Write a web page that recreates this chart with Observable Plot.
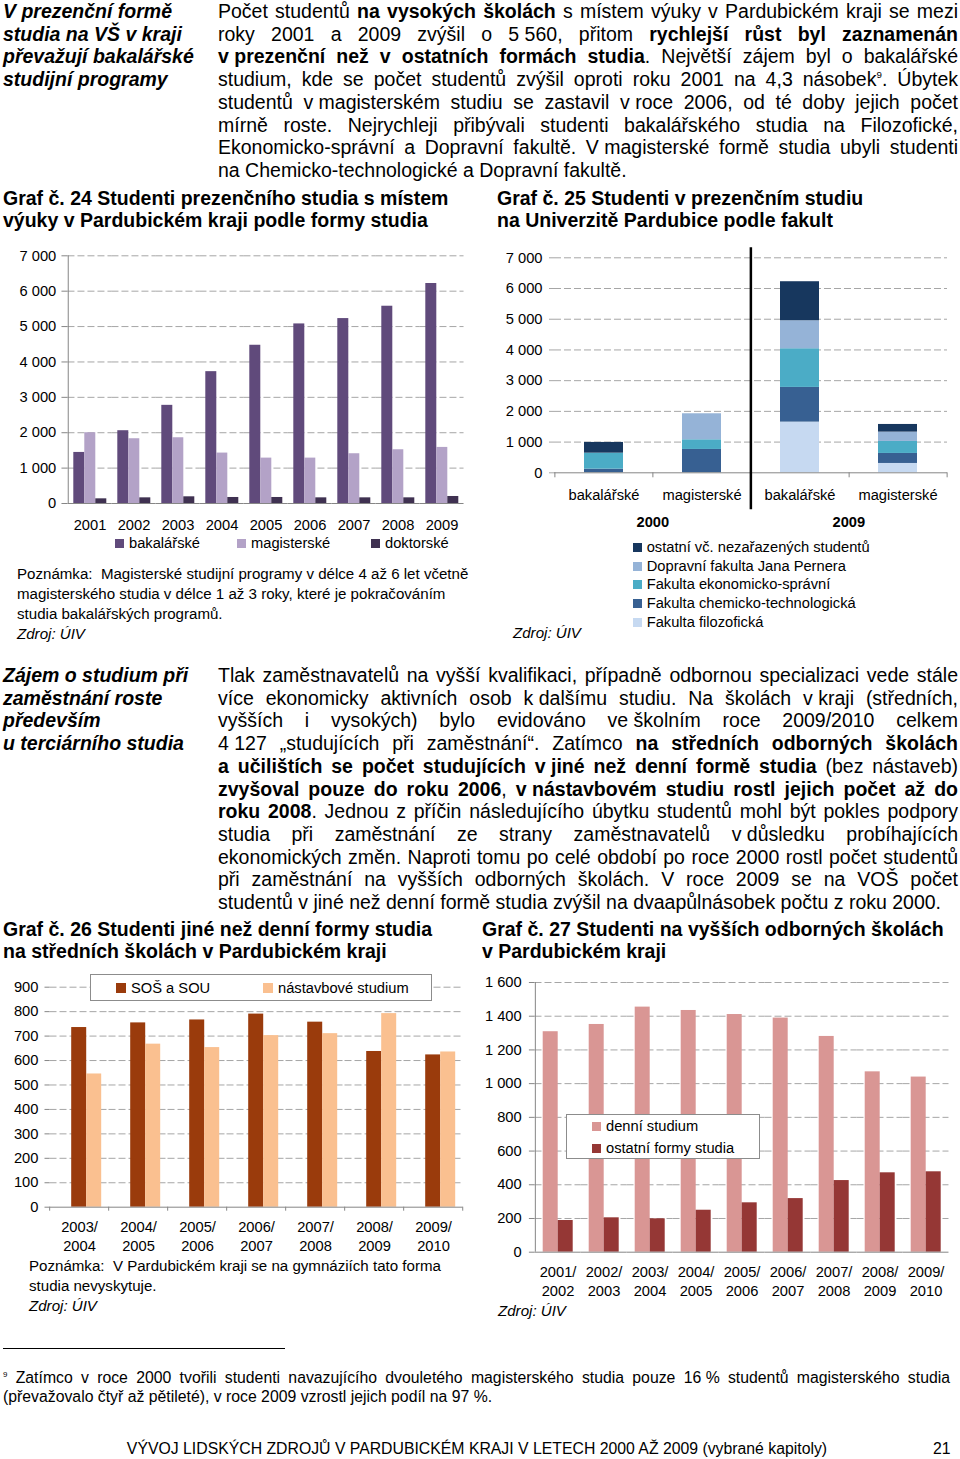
<!DOCTYPE html>
<html><head><meta charset="utf-8">
<script src="https://cdn.jsdelivr.net/npm/d3@7"></script>
<script src="https://cdn.jsdelivr.net/npm/@observablehq/plot@0.6"></script>
<style>
html,body{margin:0;padding:0;background:#fff;}
#page{position:relative;width:960px;height:1459px;overflow:hidden;font-family:"Liberation Sans",Arial,sans-serif;color:#000;background:#fff;}
.abs{position:absolute;}
.txt{font-size:19.5px;line-height:22.7px;}
.txt div{text-align:justify;text-align-last:justify;}
.txt div.l{text-align:left;text-align-last:left;}
.nb{display:inline-block;}
.side{font-size:19.5px;line-height:22.7px;font-weight:bold;font-style:italic;}
.ttl{font-size:19.5px;line-height:22.3px;font-weight:bold;}
.sm{font-size:15.1px;line-height:20px;}
.sw{display:inline-block;width:9px;height:9px;margin-right:5px;vertical-align:0px;}
.legbox{border:1px solid #8c8c8c;background:#fff;box-sizing:border-box;}
.legitem{position:absolute;font-size:14.7px;line-height:18px;white-space:nowrap;}
.fn{font-size:15.8px;line-height:19px;}
.fn div{text-align:justify;text-align-last:justify;}
.fn div.l{text-align:left;text-align-last:left;}
sup{font-size:0.5em;vertical-align:0.8em;line-height:0;}
</style></head><body><div id="page">

<div class="abs side" style="left:3px;top:0px;width:210px;">V prezenční formě<br>studia na VŠ v kraji<br>převažují bakalářské<br>studijní programy</div>
<div class="abs txt" style="left:218px;top:0px;width:740px;">
<div>Počet studentů <b>na vysokých školách</b> s místem výuky v Pardubickém kraji se mezi</div>
<div>roky 2001 a 2009 zvýšil o <span class="nb">5 560</span>, přitom <b>rychlejší růst byl zaznamenán</b></div>
<div><b><span class="nb">v prezenční</span> než v ostatních formách studia</b>. Největší zájem byl o bakalářské</div>
<div>studium, kde se počet studentů zvýšil oproti roku 2001 na 4,3 násobek<sup>9</sup>. Úbytek</div>
<div>studentů <span class="nb">v magisterském</span> studiu se zastavil <span class="nb">v roce</span> 2006, od té doby jejich počet</div>
<div>mírně roste. Nejrychleji přibývali studenti bakalářského studia na Filozofické,</div>
<div>Ekonomicko-správní a Dopravní fakultě. <span class="nb">V magisterské</span> formě studia ubyli studenti</div>
<div class="l">na Chemicko-technologické a Dopravní fakultě.</div>
</div>

<div class="abs ttl" style="left:3px;top:187px;">Graf č. 24 Studenti prezenčního studia s místem<br>výuky v Pardubickém kraji podle formy studia</div>
<div class="abs ttl" style="left:497px;top:187px;">Graf č. 25 Studenti v prezenčním studiu<br>na Univerzitě Pardubice podle fakult</div>

<div id="c24" class="abs" style="left:0px;top:240px;"></div>
<div id="leg24" class="abs" style="left:0px;top:0px;"></div>
<div class="abs sm" style="left:17px;top:564px;">Poznámka:&nbsp; Magisterské studijní programy v&nbsp;délce 4 až 6 let včetně<br>magisterského studia v&nbsp;délce 1 až 3 roky, které je pokračováním<br>studia bakalářských programů.<br><i>Zdroj: ÚIV</i></div>

<div id="c25" class="abs" style="left:490px;top:240px;"></div>
<div id="leg25" class="abs" style="left:0px;top:0px;"></div>
<div class="abs sm" style="left:513px;top:623px;"><i>Zdroj: ÚIV</i></div>

<div class="abs side" style="left:3px;top:664px;width:210px;">Zájem o studium při<br>zaměstnání roste<br>především<br>u terciárního studia</div>
<div class="abs txt" style="left:218px;top:664px;width:740px;">
<div>Tlak zaměstnavatelů na vyšší kvalifikaci, případně odbornou specializaci vede stále</div>
<div>více ekonomicky aktivních osob <span class="nb">k dalšímu</span> studiu. Na školách <span class="nb">v kraji</span> (středních,</div>
<div>vyšších i vysokých) bylo evidováno <span class="nb">ve školním</span> roce 2009/2010 celkem</div>
<div><span class="nb">4 127</span> „studujících při zaměstnání“. Zatímco <b>na středních odborných školách</b></div>
<div><b>a učilištích se počet studujících <span class="nb">v jiné</span> než denní formě studia</b> (bez nástaveb)</div>
<div><b>zvyšoval pouze do roku 2006</b>, <b><span class="nb">v nástavbovém</span> studiu rostl jejich počet až do</b></div>
<div><b>roku 2008</b>. Jednou z příčin následujícího úbytku studentů mohl být pokles podpory</div>
<div>studia při zaměstnání ze strany zaměstnavatelů <span class="nb">v důsledku</span> probíhajících</div>
<div>ekonomických změn. Naproti tomu po celé období po roce 2000 rostl počet studentů</div>
<div>při zaměstnání na vyšších odborných školách. V roce 2009 se na VOŠ počet</div>
<div class="l">studentů v&nbsp;jiné než denní formě studia zvýšil na dvaapůlnásobek počtu z roku 2000.</div>
</div>

<div class="abs ttl" style="left:3px;top:918px;">Graf č. 26 Studenti jiné než denní formy studia<br>na středních školách v Pardubickém kraji</div>
<div class="abs ttl" style="left:482px;top:918px;">Graf č. 27 Studenti na vyšších odborných školách<br>v Pardubickém kraji</div>

<div id="c26" class="abs" style="left:0px;top:970px;"></div>
<div id="leg26" class="abs legbox" style="left:90px;top:974px;width:342px;height:27px;"></div>
<div class="abs sm" style="left:29px;top:1256px;">Poznámka:&nbsp; V Pardubickém kraji se na gymnáziích tato forma<br>studia nevyskytuje.<br><i>Zdroj: ÚIV</i></div>

<div id="c27" class="abs" style="left:480px;top:970px;"></div>
<div id="leg27" class="abs legbox" style="left:566px;top:1114px;width:194px;height:45px;"></div>
<div class="abs sm" style="left:498px;top:1301px;"><i>Zdroj: ÚIV</i></div>

<div class="abs" style="left:3px;top:1348px;width:282px;height:1px;background:#000;"></div>
<div class="abs fn" style="left:3px;top:1368px;width:947px;">
<div><sup>9</sup> Zatímco v roce 2000 tvořili studenti navazujícího dvouletého magisterského studia pouze <span class="nb">16 %</span> studentů magisterského studia</div>
<div class="l">(převažovalo čtyř až pětileté), v&nbsp;roce 2009 vzrostl jejich podíl na 97 %.</div>
</div>
<div class="abs fn" style="left:110px;top:1439px;width:734px;text-align:center;">VÝVOJ LIDSKÝCH ZDROJŮ V PARDUBICKÉM KRAJI V LETECH 2000 AŽ 2009 (vybrané kapitoly)</div>
<div class="abs fn" style="left:933px;top:1439px;">21</div>

</div>
<script>
// ---------- DATA ----------
// Graf 24
const years24 = ["2001","2002","2003","2004","2005","2006","2007","2008","2009"];
const forms24 = ["bakalářské","magisterské","doktorské"];
const bak24 = [1443, 2057, 2774, 3726, 4472, 5075, 5226, 5575, 6217];
const mag24 = [2000, 1830, 1858, 1425, 1283, 1283, 1406, 1519, 1585];
const dok24 = [132, 160, 189, 170, 170, 160, 160, 160, 198];
const colors24 = ["#604a7b", "#b3a2c7", "#3f3151"];
const ticks24 = [0, 1000, 2000, 3000, 4000, 5000, 6000, 7000];

// Graf 25
const years25 = ["2000", "2009"];
const types25 = ["bakalářské", "magisterské"];
const faculties25 = ["Fakulta filozofická", "Fakulta chemicko-technologická", "Fakulta ekonomicko-správní", "Dopravní fakulta Jana Pernera", "ostatní vč. nezařazených studentů"];
// order of values: 2000 bak, 2000 mag, 2009 bak, 2009 mag
const filo25 = [0, 0, 1650, 304];
const chem25 = [119, 760, 1130, 326];
const eko25  = [521, 315, 1259, 391];
const dopr25 = [0, 847, 912, 304];
const ost25  = [348, 0, 1270, 249];
const colors25 = ["#c6d9f1", "#376092", "#4bacc6", "#95b3d7", "#17375e"];
const ticks25 = [0, 1000, 2000, 3000, 4000, 5000, 6000, 7000];

// Graf 26
const periods26 = ["2003/2004","2004/2005","2005/2006","2006/2007","2007/2008","2008/2009","2009/2010"];
const types26 = ["SOŠ a SOU", "nástavbové studium"];
const sos26 = [735, 754, 766, 790, 757, 637, 623];
const nast26 = [545, 667, 653, 702, 710, 792, 635];
const colors26 = ["#9a3b0c", "#fac090"];
const ticks26 = [0, 100, 200, 300, 400, 500, 600, 700, 800, 900];

// Graf 27
const periods27 = ["2001/2002","2002/2003","2003/2004","2004/2005","2005/2006","2006/2007","2007/2008","2008/2009","2009/2010"];
const types27 = ["denní studium", "ostatní formy studia"];
const denni27 = [1308, 1351, 1454, 1434, 1410, 1389, 1280, 1070, 1039];
const ostatni27 = [188, 204, 198, 249, 293, 318, 425, 471, 477];
const colors27 = ["#d99694", "#953735"];
const ticks27 = [0, 200, 400, 600, 800, 1000, 1200, 1400, 1600];

// ---------- HELPERS ----------
const fmt = d3.formatLocale({decimal: ",", thousands: "\u00a0", grouping: [3], currency: ["", ""]}).format(",d");
const FONT = '"Liberation Sans", Arial, sans-serif';
const chartStyle = {fontFamily: FONT, fontSize: "14.7px", color: "#000", background: "transparent", overflow: "visible"};
const GRID = "#a6a6a6", AXIS = "#868686", DASH = "7,3";
const gridTicks = t => t.filter(v => v > 0);

function legendItems(container, items, colors, lefts, tops, size = 9) {
  const el = document.getElementById(container);
  items.forEach((name, i) => {
    const d = document.createElement("div");
    d.className = "legitem";
    d.style.left = lefts[i] + "px";
    d.style.top = tops[i] + "px";
    d.innerHTML = `<span class="sw" style="background:${colors[i]};width:${size}px;height:${size}px"></span>${name}`;
    el.appendChild(d);
  });
}

// grouped (faceted) bar chart; gridlines stretched over the facet gaps
function grouped({groups, types, values, colors, ticks, yMax, width, height, ml, mr, mt, mb, pInner, barDx = 0, leftLine = false, groupTicks = false, labels}) {
  const data = groups.flatMap((g, i) => types.map((t, j) => ({group: g, type: t, value: values[j][i]})));
  const step = (width - ml - mr) / groups.length;
  const half = step * pInner / 2;
  const bw = step * (1 - pInner) / types.length;
  const marks = [
    Plot.ruleY(gridTicks(ticks), {stroke: GRID, strokeDasharray: DASH, insetLeft: -half, insetRight: -half}),
    Plot.barY(data, {fx: "group", x: "type", y: "value", fill: "type", dx: barDx}),
    Plot.ruleY([0], {stroke: AXIS, insetLeft: -half, insetRight: -half}),
    Plot.axisY({ticks, tickFormat: fmt, tickSize: labels.tickSize, tickPadding: labels.tickPadding, dx: -half, stroke: AXIS, label: null})
  ];
  if (leftLine) marks.push(Plot.ruleX([types[0]], {fx: () => groups[0], dx: -(bw / 2 + half), stroke: AXIS, data: [groups[0]]}));
  if (groupTicks) {
    marks.push(Plot.ruleX(groups, {fx: d => d, x: () => types[0], dx: -(bw / 2 + half), y1: 0, y2: 0, insetBottom: -4, stroke: AXIS}));
    marks.push(Plot.ruleX([groups[groups.length - 1]], {fx: d => d, x: () => types[types.length - 1], dx: bw / 2 + half, y1: 0, y2: 0, insetBottom: -4, stroke: AXIS}));
  }
  marks.push(Plot.text(groups, {fx: d => d, text: d => labels.multiline ? d.replace("/", "/\n") : d, frameAnchor: "bottom", lineAnchor: "top", dy: labels.dy, lineHeight: 1.3}));
  return Plot.plot({
    width, height, marginLeft: ml, marginRight: mr, marginTop: mt, marginBottom: mb,
    style: chartStyle,
    fx: {domain: groups, paddingInner: pInner, paddingOuter: pInner / 2, axis: null, label: null},
    x: {domain: types, padding: 0, axis: null},
    y: {domain: [0, yMax], label: null},
    color: {domain: types, range: colors},
    marks
  });
}

// ---------- GRAF 24 ----------
document.getElementById("c24").appendChild(grouped({
  groups: years24, types: forms24, values: [bak24, mag24, dok24], colors: colors24,
  ticks: ticks24, yMax: 7000, width: 480, height: 296, ml: 66.7, mr: 15, mt: 15.3, mb: 33,
  pInner: 0.25, leftLine: true,
  labels: {tickSize: 6, tickPadding: 5.7, dy: 13, multiline: false}
}));
legendItems("leg24", forms24, colors24, [115, 237, 371], [534, 534, 534]);

// ---------- GRAF 25 ----------
const keys25 = years25.flatMap(y => types25.map(t => `${y} ${t}`));
const series25 = [filo25, chem25, eko25, dopr25, ost25];
const data25 = faculties25.flatMap((f, j) => keys25.map((k, i) => ({key: k, faculty: f, value: series25[j][i]})));
const W25 = 470, ML25 = 64, MR25 = 13;
const step25 = (W25 - ML25 - MR25) / keys25.length;
const c25 = Plot.plot({
  width: W25, height: 300,
  marginLeft: ML25, marginRight: MR25, marginTop: 17.3, marginBottom: 67.7,
  style: chartStyle,
  x: {domain: keys25, paddingInner: 0.6, paddingOuter: 0.3, label: null},
  y: {domain: [0, 7000], label: null},
  color: {domain: faculties25, range: colors25},
  marks: [
    Plot.ruleY(gridTicks(ticks25), {stroke: GRID, strokeDasharray: DASH}),
    Plot.barY(data25, {x: "key", y: "value", fill: "faculty", order: null}),
    Plot.ruleY([0], {stroke: AXIS}),
    Plot.ruleX([keys25[0], keys25[1]], {dx: -step25 / 2, y1: 0, y2: 0, insetBottom: -5, stroke: AXIS}),
    Plot.ruleX([keys25[2], keys25[3]], {dx: step25 / 2, y1: 0, y2: 0, insetBottom: -5, stroke: AXIS}),
    Plot.ruleX([keys25[2]], {dx: -step25 / 2, insetTop: -10, insetBottom: -37, stroke: "#000", strokeWidth: 2.5}),
    Plot.axisY({ticks: ticks25, tickFormat: fmt, tickSize: 5, tickPadding: 7, stroke: GRID, label: null}),
    Plot.axisX({tickSize: 0, tickPadding: 16.5, tickFormat: d => d.split(" ")[1], label: null}),
    Plot.text(years25, {x: y => `${y} ${types25[1]}`, dx: -step25 / 2, frameAnchor: "bottom", dy: 54.2, text: d => d, fontWeight: "bold"})
  ]
});
document.getElementById("c25").appendChild(c25);
{
  const rev = faculties25.slice().reverse(), revc = colors25.slice().reverse();
  legendItems("leg25", rev, revc, rev.map(() => 632.7), rev.map((_, i) => 538 + i * 18.7));
}

// ---------- GRAF 26 ----------
document.getElementById("c26").appendChild(grouped({
  groups: periods26, types: types26, values: [sos26, nast26], colors: colors26,
  ticks: ticks26, yMax: 900, width: 470, height: 287, ml: 49.3, mr: 6.7, mt: 16.7, mb: 50.3,
  pInner: 0.49, barDx: 7.5, groupTicks: true,
  labels: {tickSize: 5, tickPadding: 6.6, dy: 11.5, multiline: true}
}));
legendItems("leg26", types26, colors26, [25, 172], [3.5, 3.5], 10);

// ---------- GRAF 27 ----------
document.getElementById("c27").appendChild(grouped({
  groups: periods27, types: types27, values: [denni27, ostatni27], colors: colors27,
  ticks: ticks27, yMax: 1600, width: 480, height: 330, ml: 52.3, mr: 10, mt: 12, mb: 48.3,
  pInner: 0.323, leftLine: true,
  labels: {tickSize: 5.6, tickPadding: 7.7, dy: 11, multiline: true}
}));
legendItems("leg27", types27, colors27, [25, 25], [1.5, 23.5]);
</script>
</body></html>
